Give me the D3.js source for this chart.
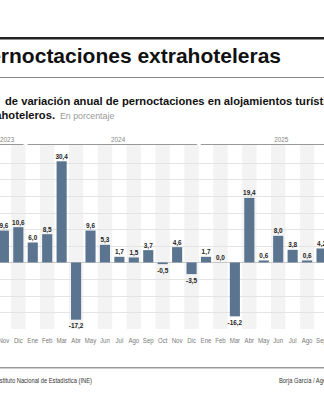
<!DOCTYPE html>
<html>
<head>
<meta charset="utf-8">
<script src="https://cdn.jsdelivr.net/npm/d3@7"></script>
<style>
  body { margin: 0; background: #fff; }
  svg { display: block; font-family: "Liberation Sans", Arial, sans-serif; }
</style>
</head>
<body>
<div id="chart"></div>
<script>

// data
var months = ["Nov", "Dic",
  "Ene", "Feb", "Mar", "Abr", "May", "Jun", "Jul", "Ago", "Sep", "Oct", "Nov", "Dic",
  "Ene", "Feb", "Mar", "Abr", "May", "Jun", "Jul", "Ago", "Sep"];
var years = [2023, 2023,
  2024, 2024, 2024, 2024, 2024, 2024, 2024, 2024, 2024, 2024, 2024, 2024,
  2025, 2025, 2025, 2025, 2025, 2025, 2025, 2025, 2025];
var values = [9.6, 10.6,
  6.0, 8.5, 30.4, -17.2, 9.6, 5.3, 1.7, 1.5, 3.7, -0.5, 4.6, -3.5,
  1.7, 0.0, -16.2, 19.4, 0.6, 8.0, 3.8, 0.6, 4.2];
var yearLabels = ["2023", "2024", "2025"];
var gridTicks = [-15, -10, -5, 5, 10, 15, 20, 25, 30];

var svgWidth = 324;
var svgHeight = 400;

var data = months.map(function(m, i) {
  return { key: m + years[i], month: m, year: years[i], value: values[i] };
});

var svg = d3.select("#chart")
  .append("svg")
  .attr("width", svgWidth)
  .attr("height", svgHeight);

// text helper, sx squeezes the glyphs sideways (narrow type in the original)
function addText(parent, x, y, str, size, sx, anchor, weight, fill) {
  return parent.append("text")
    .attr("transform", `translate(${x}, ${y}) scale(${sx}, 1)`)
    .attr("text-anchor", anchor)
    .attr("font-size", size + "px")
    .attr("font-weight", weight)
    .attr("fill", fill)
    .text(str);
}

// header
svg.append("rect")
  .attr("x", 0).attr("y", 37)
  .attr("width", svgWidth).attr("height", 2.5)
  .attr("fill", "#222");

addText(svg, 281, 63, "Pernoctaciones extrahoteleras", 21, 1, "end", "bold", "#111");

svg.append("rect")
  .attr("x", 0).attr("y", 77)
  .attr("width", svgWidth).attr("height", 1)
  .attr("fill", "#888");

addText(svg, -1.5, 105, "Tasa", 11.2, 1, "end", "bold", "#111");
addText(svg, 5, 105, "de variación anual de pernoctaciones en alojamientos turísticos", 11.2, 1, "start", "bold", "#111");
addText(svg, 55, 119, "extrahoteleros.", 11.2, 1, "end", "bold", "#111");
addText(svg, 60, 119, "En porcentaje", 8.8, 1, "start", "normal", "#999");

// scales
var plotTop = 146;
var plotBottom = 329;

var x = d3.scaleBand()
  .domain(data.map(d => d.key))
  .range([-5.5, 330.9])
  .padding(0.3);

var y = d3.scaleLinear()
  .domain([-20, 35])
  .range([plotBottom, plotTop]);

var step = x.step();

// alternate column shading
svg.append("g")
  .selectAll("rect")
  .data(data.filter(d => ["Feb", "Abr", "Jun", "Ago", "Oct", "Dic"].indexOf(d.month) >= 0))
  .enter()
  .append("rect")
  .attr("x", d => x(d.key) + x.bandwidth() / 2 - step / 2)
  .attr("y", plotTop - 2)
  .attr("width", step)
  .attr("height", plotBottom - plotTop + 2)
  .attr("fill", "#f3f3f3");

// gridlines
svg.append("g")
  .selectAll("line")
  .data(gridTicks)
  .enter()
  .append("line")
  .attr("x1", 0).attr("x2", svgWidth)
  .attr("y1", d => Math.round(y(d)) + 0.5)
  .attr("y2", d => Math.round(y(d)) + 0.5)
  .attr("stroke", "#e4e4e4")
  .attr("stroke-width", 1);

svg.append("line")
  .attr("x1", 0).attr("x2", svgWidth)
  .attr("y1", Math.round(y(0)) + 0.5)
  .attr("y2", Math.round(y(0)) + 0.5)
  .attr("stroke", "#c8c8c8");

// year headers
yearLabels.forEach(function(yr) {
  var ds = data.filter(d => String(d.year) === yr);
  var first = ds[0], last = ds[ds.length - 1];
  var x0 = x(first.key) + x.bandwidth() / 2 - step / 2 + 2;
  var x1 = x(last.key) + x.bandwidth() / 2 + step / 2 - 2;
  if (yr === "2025") x1 = x(last.key) + x.bandwidth() / 2 + step * 4;
  svg.append("line")
    .attr("x1", x0).attr("x2", x1)
    .attr("y1", 144.5).attr("y2", 144.5)
    .attr("stroke", "#999");
  var lx;
  if (yr === "2023") lx = 0;
  else if (yr === "2024") lx = x("Jun2024") + x.bandwidth() + 1;
  else lx = x("Jun2025") + 1;
  addText(svg, lx, 142, yr, 8, 0.8, "start", "normal", "#888");
});

// bars
svg.append("g")
  .selectAll("rect")
  .data(data)
  .enter()
  .append("rect")
  .attr("x", d => x(d.key))
  .attr("y", d => y(Math.max(0, d.value)))
  .attr("width", x.bandwidth())
  .attr("height", d => Math.abs(y(d.value) - y(0)))
  .attr("fill", "#5b7591");

// value labels
var labelG = svg.append("g");
data.forEach(function(d) {
  var ly = d.value >= 0 ? y(d.value) - 2.5 : y(d.value) + 8.5;
  addText(labelG, x(d.key) + x.bandwidth() / 2, ly,
    d.value.toFixed(1).replace(".", ","), 7.8, 0.82, "middle", "bold", "#222");
});

// month axis
var xAxis = d3.axisBottom(x)
  .tickSize(0)
  .tickPadding(0)
  .tickFormat((k, i) => data[i].month);

var axisG = svg.append("g")
  .attr("transform", `translate(0, ${plotBottom + 8.5})`)
  .call(xAxis);
axisG.select(".domain").remove();
axisG.selectAll("text")
  .attr("font-size", "8px")
  .attr("fill", "#7a7a7a")
  .attr("font-family", "'Liberation Sans', Arial, sans-serif")
  .attr("transform", "scale(0.76, 1)");

// footer
svg.append("rect")
  .attr("x", 0).attr("y", 367)
  .attr("width", svgWidth).attr("height", 1.5)
  .attr("fill", "#999");

addText(svg, 92, 383, "Fuente: Instituto Nacional de Estadística (INE)", 7.4, 0.78, "end", "normal", "#333");
addText(svg, 279, 383, "Borja García / Agencia EFE", 7.4, 0.78, "start", "normal", "#333");

</script>
</body>
</html>
